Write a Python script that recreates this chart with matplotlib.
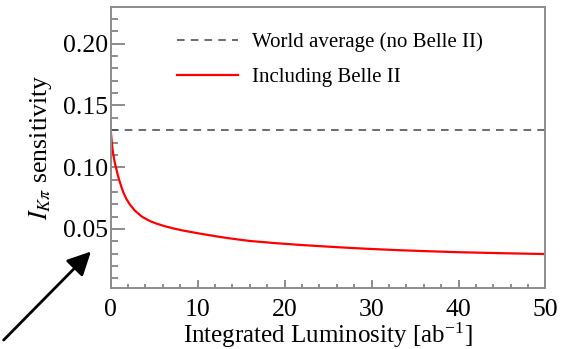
import numpy as np
import matplotlib
matplotlib.use('Agg')
from matplotlib import pyplot as plt

#============================ data ============================
lumi = [0, 0.06, 0.12, 0.2, 0.3, 0.45, 0.61, 0.8, 0.95, 1.2, 1.45, 1.8, 2.2, 2.8, 3.6,
        4.5, 5.3, 6.25, 7.2, 8.35, 10.3, 12.2, 14, 16, 19, 21.8, 25, 27.5, 30, 33.3,
        36, 40, 45, 50]
sens = [0.132, 0.1265, 0.1217, 0.1160, 0.1109, 0.1050, 0.1000, 0.0945, 0.0906, 0.0850,
        0.0799, 0.0745, 0.0700, 0.0648, 0.0600, 0.0565, 0.0543, 0.0522, 0.0505, 0.0487,
        0.0462, 0.0440, 0.0421, 0.0403, 0.0385, 0.0371, 0.0357, 0.0347, 0.0338, 0.0328,
        0.0321, 0.0312, 0.0304, 0.0297]
world_avg = 0.13

x_label = 'Integrated Luminosity [ab$^{\\mathregular{-1}}$]'
y_label = '$I_{K\\pi}$ sensitivity'
legend_labels = ['World average (no Belle II)', 'Including Belle II']

#============================ style ============================
plt.rcParams['font.family'] = ['Liberation Serif', 'DejaVu Serif']
plt.rcParams['mathtext.fontset'] = 'stix'
spine_col = '#8c8c8c'

fig = plt.figure(figsize=(5.7, 3.49), dpi=100)
ax = fig.add_axes([0.194, 0.174, 0.763, 0.807])

ax.axhline(world_avg, color='#444444', lw=1.1, ls=(0, (5, 4)), label=legend_labels[0])
ax.plot(lumi, sens, color='red', lw=1.6, label=legend_labels[1])

ax.set_xlim(0, 50)
ax.set_ylim(0.002, 0.23)
ax.set_xticks(np.arange(0, 51, 10))
ax.set_xticks(np.arange(0, 51, 2), minor=True)
ax.set_yticks([0.05, 0.10, 0.15, 0.20])
ax.set_yticklabels(['0.05', '0.10', '0.15', '0.20'])
ax.set_yticks(np.arange(0.01, 0.23, 0.01), minor=True)

for s in ax.spines.values():
    s.set_color(spine_col)
    s.set_linewidth(1.4)

ax.tick_params(axis='both', which='both', direction='in', colors=spine_col,
               labelcolor='black', labelsize=18.5, width=1.4)
ax.tick_params(axis='y', which='major', length=10, pad=2)
ax.tick_params(axis='y', which='minor', length=5)
ax.tick_params(axis='x', which='major', length=6, pad=8)
ax.tick_params(axis='x', which='minor', length=3)

ax.set_xlabel(x_label, fontsize=18, labelpad=-1)
ax.set_ylabel(y_label, fontsize=18.5, labelpad=6)

leg = ax.legend(loc='upper left', bbox_to_anchor=(0.11, 0.975), frameon=False,
                fontsize=15, handlelength=2.9, handletextpad=0.7, labelspacing=0.75)

# black arrow in the bottom-left corner, pointing at the axis
fig.add_artist(matplotlib.patches.FancyArrowPatch(
    (0.003, 0.02), (0.163, 0.285), transform=fig.transFigure,
    arrowstyle='-|>,head_length=11,head_width=5.5', mutation_scale=1.3,
    color='black', lw=2))

fig.savefig('out.png', dpi=100)
